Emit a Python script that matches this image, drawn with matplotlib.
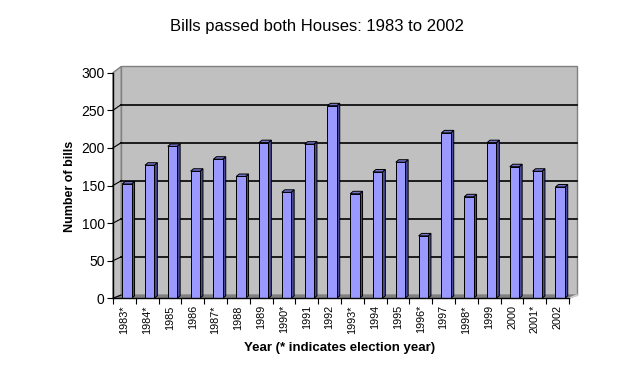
import matplotlib

matplotlib.use("Agg")
import matplotlib.pyplot as plt
from matplotlib.patches import Polygon

plt.rcParams["font.family"] = ["Liberation Sans", "DejaVu Sans"]

years = ["1983*", "1984*", "1985", "1986", "1987*", "1988", "1989", "1990*",
         "1991", "1992", "1993*", "1994", "1995", "1996*", "1997", "1998*",
         "1999", "2000", "2001*", "2002"]
bills = [152, 177, 202, 169, 185, 162, 207, 141, 205, 256, 139, 168, 181, 83,
         220, 135, 207, 175, 169, 148]
yticks = [0, 50, 100, 150, 200, 250, 300]

# fake 3D: back wall offset and bar depth, in data units
WALL_DX = 0.36
BAR_W, BAR_DX, BAR_DY = 0.41, 0.13, 3.3


def back_y(v):
    return 4.4 + 1.013 * v


fig = plt.figure(figsize=(6.34, 3.78), dpi=100)
ax = fig.add_axes([113 / 634, (378 - 298.3) / 378, 456 / 634, 225.6 / 378])
n = len(years)
ax.set_xlim(0, n)
ax.set_ylim(0, 300)

top = yticks[-1]
# back wall, side wall, floor
ax.add_patch(Polygon([(WALL_DX, back_y(0)), (n + WALL_DX, back_y(0)),
                      (n + WALL_DX, back_y(top)), (WALL_DX, back_y(top))],
                     closed=True, fc="#c0c0c0", ec="#808080", lw=1, clip_on=False, zorder=0))
ax.add_patch(Polygon([(0, 0), (WALL_DX, back_y(0)), (WALL_DX, back_y(top)), (0, top)],
                     closed=True, fc="#c0c0c0", ec="#808080", lw=1, clip_on=False, zorder=0))
ax.add_patch(Polygon([(0, 0), (n, 0), (n + WALL_DX, back_y(0)), (WALL_DX, back_y(0))],
                     closed=True, fc="#808080", ec="#808080", lw=0.8, clip_on=False, zorder=1))
ax.plot([n, n + WALL_DX], [0, back_y(0)], color="#d0d0d0", lw=1.2, clip_on=False, zorder=1)
for v in yticks[1:-1]:
    ax.plot([WALL_DX, n + WALL_DX], [back_y(v), back_y(v)], color="black", lw=1.2,
            clip_on=False, zorder=1)
for v in yticks[:-1]:
    ax.plot([0, WALL_DX], [v, back_y(v)], color="black", lw=0.8, clip_on=False, zorder=1)

# bars: front face + side + top
for i, v in enumerate(bills):
    x0 = i + 0.5 + 0.11 - BAR_W / 2
    x1 = x0 + BAR_W
    ax.add_patch(Polygon([(x1, 0), (x1 + BAR_DX, BAR_DY), (x1 + BAR_DX, v + BAR_DY), (x1, v)],
                         closed=True, fc="#4a4a99", ec="black", lw=0.7, zorder=3, clip_on=False))
    ax.add_patch(Polygon([(x0, v), (x1, v), (x1 + BAR_DX, v + BAR_DY), (x0 + BAR_DX, v + BAR_DY)],
                         closed=True, fc="#7373cc", ec="black", lw=0.7, zorder=3, clip_on=False))
    ax.bar(i + 0.5 + 0.11, v, width=BAR_W, color="#9999ff", edgecolor="black",
           linewidth=0.7, zorder=4)

for s in ["top", "right"]:
    ax.spines[s].set_visible(False)
ax.spines["left"].set_linewidth(1)
ax.spines["bottom"].set_linewidth(1)
ax.spines["left"].set_zorder(5)
ax.spines["bottom"].set_zorder(5)

ax.set_yticks(yticks)
ax.tick_params(axis="y", length=4, labelsize=10, pad=2)
ax.set_xticks(range(n + 1))
ax.set_xticklabels([])
ax.tick_params(axis="x", which="major", length=4, direction="out")
ax.set_xticks([i + 0.5 for i in range(n)], minor=True)
ax.set_xticklabels(years, minor=True, rotation=90, fontsize=7.8)
ax.tick_params(axis="x", which="minor", length=0, pad=5)

fig.text(0.5, 1 - 27 / 378, "Bills passed both Houses: 1983 to 2002", ha="center",
         va="center", fontsize=12)
fig.text(70 / 634, 1 - 186 / 378, "Number of bills", rotation=90, ha="center",
         va="center", fontsize=9, fontweight="bold")
fig.text(340 / 634, 1 - 348 / 378, "Year (* indicates election year)", ha="center",
         va="center", fontsize=9.5, fontweight="bold")

fig.savefig("out.png", dpi=100)
